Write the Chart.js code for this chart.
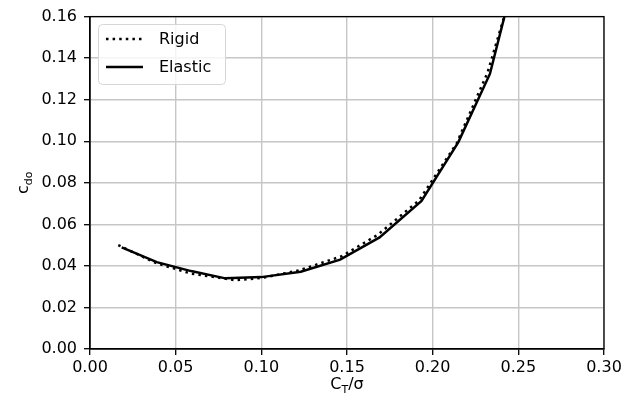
<!DOCTYPE html>
<html>
<head>
<meta charset="utf-8">
<script src="https://cdn.jsdelivr.net/npm/chart.js@4.4.0/dist/chart.umd.min.js"></script>
<style>
  html, body { margin: 0; padding: 0; background: #fff; }
  #wrap { width: 633px; height: 402px; }
</style>
</head>
<body>
<div id="wrap"><canvas id="myChart" width="633" height="402"></canvas></div>
<script>
// --- data ---
const rigidX   = [0.0165, 0.039, 0.059, 0.085, 0.100, 0.122, 0.147, 0.168, 0.192, 0.214, 0.232, 0.2425];
const rigidY   = [0.0500, 0.0412, 0.0363, 0.0331, 0.0342, 0.0378, 0.0447, 0.0550, 0.0715, 0.0990, 0.1330, 0.1620];
const elasticX = [0.0185, 0.039, 0.059, 0.079, 0.100, 0.123, 0.146, 0.169, 0.1935, 0.215, 0.2334, 0.2425];
const elasticY = [0.0489, 0.0418, 0.0375, 0.0340, 0.0346, 0.0372, 0.0430, 0.0537, 0.0713, 0.0996, 0.1324, 0.1620];
const xTicks = [0, 0.05, 0.10, 0.15, 0.20, 0.25, 0.30];
const yTicks = [0, 0.02, 0.04, 0.06, 0.08, 0.10, 0.12, 0.14, 0.16];

const FONT = 'DejaVu Sans';
const pts = (xs, ys) => xs.map((x, i) => ({ x: x, y: ys[i] }));

// spines on top/right, legend box, axis titles with subscripts
const decor = {
    id: 'decor',
    afterDraw(chart) {
        const { ctx, chartArea: a } = chart;
        ctx.save();
        ctx.strokeStyle = '#000';
        ctx.lineWidth = 1.3;
        ctx.strokeRect(a.left, a.top, a.right - a.left, a.bottom - a.top);

        // legend
        const bx = 98.5, by = 24.5, bw = 127, bh = 60;
        ctx.beginPath();
        ctx.roundRect(bx, by, bw, bh, 4);
        ctx.fillStyle = 'rgba(255,255,255,0.8)';
        ctx.fill();
        ctx.strokeStyle = '#d6d6d6';
        ctx.lineWidth = 1;
        ctx.stroke();
        const items = [chart.data.datasets[0], chart.data.datasets[1]];
        const rows = [39, 67];
        ctx.font = `16px '${FONT}'`;
        ctx.textBaseline = 'middle';
        ctx.textAlign = 'left';
        items.forEach((ds, i) => {
            ctx.beginPath();
            ctx.setLineDash(ds.borderDash || []);
            ctx.lineCap = 'butt';
            ctx.strokeStyle = ds.borderColor;
            ctx.lineWidth = ds.borderWidth;
            ctx.moveTo(106, rows[i]);
            ctx.lineTo(143, rows[i]);
            ctx.stroke();
            ctx.setLineDash([]);
            ctx.fillStyle = '#000';
            ctx.fillText(ds.label, 159, rows[i] + 1);
        });

        // x title: C_T/σ
        ctx.fillStyle = '#000';
        ctx.textBaseline = 'alphabetic';
        const big = `16px '${FONT}'`, small = `11px '${FONT}'`;
        ctx.font = big; const w1 = ctx.measureText('C').width, w3 = ctx.measureText('/σ').width;
        ctx.font = small; const w2 = ctx.measureText('T').width;
        let x0 = (a.left + a.right) / 2 - (w1 + w2 + w3) / 2;
        const yb = 389;
        ctx.font = big; ctx.fillText('C', x0, yb);
        ctx.font = small; ctx.fillText('T', x0 + w1, yb + 4);
        ctx.font = big; ctx.fillText('/σ', x0 + w1 + w2, yb);

        // y title: c_do
        ctx.translate(27.5, (a.top + a.bottom) / 2);
        ctx.rotate(-Math.PI / 2);
        ctx.font = big; const v1 = ctx.measureText('c').width;
        ctx.font = small; const v2 = ctx.measureText('do').width;
        const s0 = -(v1 + v2) / 2;
        ctx.font = big; ctx.fillText('c', s0, 0);
        ctx.font = small; ctx.fillText('do', s0 + v1, 4);
        ctx.restore();
    }
};

const ctx = document.getElementById('myChart').getContext('2d');
const chart = new Chart(ctx, {
    type: 'line',
    data: {
        datasets: [
            { label: 'Rigid', data: pts(rigidX, rigidY), borderColor: '#000', borderWidth: 2.5, borderDash: [2.5, 4.1], pointRadius: 0, fill: false, tension: 0, order: 1 },
            { label: 'Elastic', data: pts(elasticX, elasticY), borderColor: '#000', borderWidth: 2.5, pointRadius: 0, fill: false, tension: 0, order: 0 }
        ]
    },
    options: {
        responsive: false,
        animation: false,
        layout: { padding: { top: 16, right: 29, left: 0, bottom: 0 } },
        plugins: { legend: { display: false }, tooltip: { enabled: false } },
        scales: {
            x: {
                type: 'linear', min: 0, max: 0.30,
                afterFit(s) { s.height = 53; },
                afterBuildTicks(s) { s.ticks = xTicks.map(v => ({ value: v })); },
                ticks: { color: '#000', font: { family: FONT, size: 16 }, padding: 3, maxRotation: 0, callback: v => v.toFixed(2) },
                grid: { color: '#c6c6c6', lineWidth: 1.4, tickColor: '#000', tickLength: 6, tickWidth: 1.3 },
                border: { color: '#000', width: 1.3 }
            },
            y: {
                type: 'linear', min: 0, max: 0.16,
                afterFit(s) { s.width = 90; },
                afterBuildTicks(s) { s.ticks = yTicks.map(v => ({ value: v })); },
                ticks: { color: '#000', font: { family: FONT, size: 16 }, padding: 7, callback: v => v.toFixed(2) },
                grid: { color: '#c6c6c6', lineWidth: 1.4, tickColor: '#000', tickLength: 6, tickWidth: 1.3 },
                border: { color: '#000', width: 1.3 }
            }
        }
    },
    plugins: [decor]
});
</script>
</body>
</html>
